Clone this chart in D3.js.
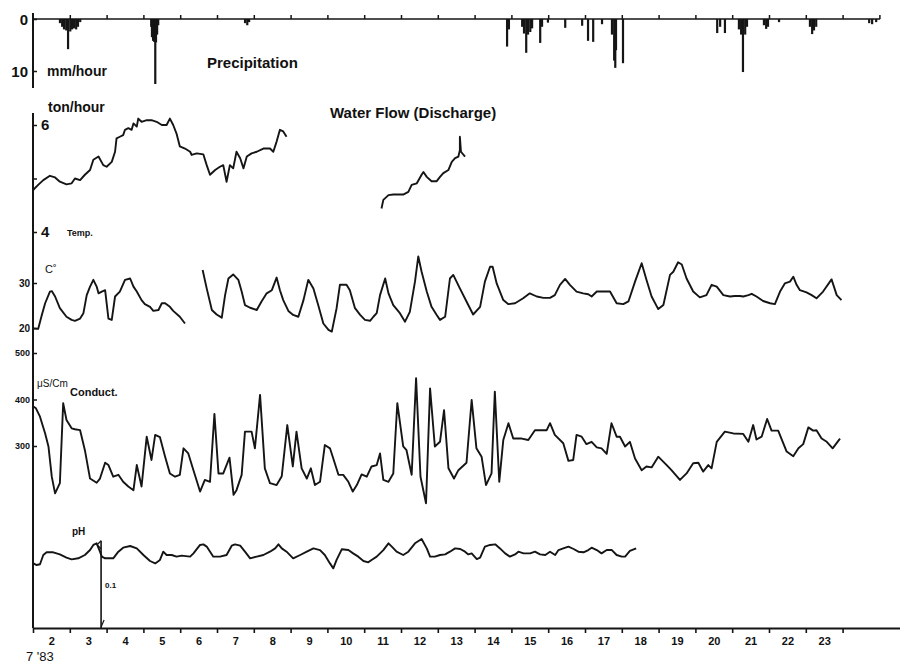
<!DOCTYPE html>
<html>
<head>
<meta charset="utf-8">
<script src="https://cdn.jsdelivr.net/npm/d3@7"></script>
<style>
  body { margin: 0; background: #fff; }
  svg { display: block; background: #fff; }
  text { font-family: "Liberation Sans", Arial, sans-serif; fill: #111; }
  .narrow { font-family: "Liberation Sans Narrow", "Liberation Sans", Arial, sans-serif; }
</style>
</head>
<body>
<div id="chart"></div>
<script>
// July 1983, days of month (fractional day = time within the day)
const dayLabels = ["2","3","4","5","6","7","8","9","10","11","12","13","14","15","16","17","18","19","20","21","22","23"];

// precipitation, mm/hour
const precipDay = [2.73,2.79,2.84,2.90,2.95,3.01,3.06,3.11,3.17,3.22,3.28,
  5.21,5.23,5.26,5.29,5.32,5.34,5.37,5.40, 7.76,7.82,7.87, 14.88,14.93,
  15.29,15.34,15.40,15.45,15.51,15.56, 15.78,15.83, 15.99, 16.46, 16.92, 17.08, 17.22, 17.46,
  17.73,17.79,17.82,17.84, 18.03, 20.59,20.67,20.80, 21.18,21.24,21.29,21.35,21.40,
  21.86,21.92,21.97,22.27, 23.11,23.17,23.22,23.28, 24.72,24.80,24.91];
const precipMm = [0.8,1.5,2.0,2.2,5.8,2.4,2.0,1.8,2.0,1.5,0.6,
  1.5,3.5,4.2,4.4,12.5,4.5,3.0,1.2, 0.8,1.2,0.6, 5.3,2.0,
  1.5,2.8,6.5,3.0,2.5,1.8, 4.6,1.5, 0.7, 1.7, 1.3, 4.2, 4.4, 1.0,
  3.0,8.0,9.4,6.0, 8.5, 2.7,1.5,2.7, 2.0,3.0,10.2,3.0,1.5,
  1.2,1.9,1.5,0.6, 1.5,2.9,2.2,1.5, 0.8,1.0,0.6];

// water flow (discharge), ton/hour -- null = no record
const discharge = [[2.01,4.79],[2.14,4.88],[2.28,4.97],[2.46,5.05],[2.60,5.02],[2.73,4.94],[2.91,4.89],
  [3.05,4.91],[3.14,5.00],[3.28,4.97],[3.41,5.07],[3.55,5.16],[3.64,5.35],[3.78,5.41],[3.91,5.25],
  [4.00,5.22],[4.14,5.31],[4.23,5.50],[4.27,5.75],[4.36,5.78],[4.45,5.81],[4.50,5.91],[4.59,5.94],
  [4.68,5.91],[4.73,6.03],[4.82,5.97],[4.86,6.12],[4.95,6.06],[5.09,6.09],[5.22,6.09],[5.36,6.06],
  [5.50,6.00],[5.63,6.00],[5.72,6.12],[5.81,6.00],[5.90,5.84],[5.99,5.60],[6.13,5.56],[6.27,5.50],
  [6.31,5.44],[6.45,5.47],[6.63,5.45],[6.72,5.25],[6.81,5.07],[6.95,5.16],[7.08,5.22],[7.17,5.25],
  [7.26,4.94],[7.35,5.25],[7.44,5.19],[7.53,5.50],[7.63,5.38],[7.72,5.19],[7.81,5.41],[7.94,5.47],
  [8.08,5.50],[8.26,5.56],[8.44,5.56],[8.53,5.50],[8.62,5.69],[8.71,5.91],[8.80,5.88],[8.89,5.78],
  null,
  [11.47,4.44],[11.52,4.60],[11.66,4.69],[11.79,4.70],[12.06,4.70],[12.20,4.75],[12.29,4.88],
  [12.43,4.91],[12.56,5.07],[12.61,5.12],[12.70,5.03],[12.83,4.95],[12.97,4.95],[13.06,5.03],
  [13.15,5.10],[13.29,5.16],[13.38,5.31],[13.47,5.38],[13.56,5.41],[13.60,5.53],[13.60,5.78],
  [13.63,5.50],[13.74,5.41]];

// temperature, C
const temperature = [[2.01,19.9],[2.14,19.8],[2.24,22.9],[2.33,25.5],[2.46,28.1],[2.51,28.2],[2.60,27.0],
  [2.73,24.4],[2.91,22.5],[3.05,21.8],[3.14,21.6],[3.28,22.1],[3.37,23.3],[3.46,27.3],[3.55,29.2],
  [3.64,30.7],[3.73,29.2],[3.78,27.7],[3.87,28.1],[3.96,28.4],[4.05,22.1],[4.14,21.8],[4.23,27.0],
  [4.36,28.1],[4.50,30.7],[4.64,31.0],[4.73,29.2],[4.82,28.1],[4.95,26.2],[5.04,25.3],[5.18,24.7],
  [5.27,23.8],[5.41,24.0],[5.50,25.5],[5.59,25.5],[5.72,24.7],[5.81,23.8],[5.99,22.5],[6.13,21.0],
  null,
  [6.61,32.9],[6.72,28.8],[6.86,24.0],[6.99,23.0],[7.13,22.3],[7.22,27.3],[7.31,31.0],[7.44,31.9],
  [7.58,30.7],[7.67,28.1],[7.76,25.1],[7.90,24.5],[8.08,24.0],[8.21,25.9],[8.35,27.7],[8.49,28.4],
  [8.62,31.2],[8.71,28.4],[8.80,26.2],[8.94,23.8],[9.07,22.9],[9.21,22.5],[9.35,26.2],[9.48,30.7],
  [9.62,28.8],[9.75,25.1],[9.89,21.0],[10.03,19.6],[10.12,19.2],[10.25,24.4],[10.34,29.6],[10.52,29.6],
  [10.61,28.4],[10.75,24.4],[10.89,22.9],[11.02,21.8],[11.16,21.6],[11.25,22.5],[11.34,23.3],[11.43,27.3],
  [11.57,31.0],[11.66,27.7],[11.79,25.1],[11.97,23.3],[12.11,21.4],[12.24,23.6],[12.38,30.3],[12.47,35.9],
  [12.56,32.5],[12.70,28.1],[12.83,24.7],[12.97,22.9],[13.06,21.8],[13.20,22.5],[13.33,31.0],[13.42,31.8],
  [13.60,28.8],[13.78,25.9],[13.96,23.0],[14.15,24.7],[14.28,30.3],[14.42,33.6],[14.49,33.6],[14.60,29.9],
  [14.78,26.2],[14.92,25.3],[15.10,25.5],[15.32,26.6],[15.50,27.7],[15.69,27.0],[15.87,26.7],[16.05,26.7],
  [16.18,27.3],[16.32,29.6],[16.46,30.9],[16.59,29.6],[16.77,28.1],[16.95,27.7],[17.09,27.5],[17.18,27.0],
  [17.32,28.1],[17.50,28.1],[17.68,28.1],[17.86,25.5],[18.04,25.3],[18.18,25.9],[18.36,30.3],[18.54,34.4],
  [18.67,30.7],[18.81,27.0],[18.99,24.2],[19.13,25.1],[19.31,31.8],[19.40,32.5],[19.53,34.6],[19.63,34.1],
  [19.76,31.0],[19.94,28.1],[20.12,26.8],[20.30,27.3],[20.44,29.6],[20.58,29.2],[20.76,27.3],[20.94,27.0],
  [21.07,27.1],[21.21,27.1],[21.30,27.0],[21.44,27.3],[21.53,27.6],[21.66,27.0],[21.84,26.0],[22.03,25.5],
  [22.16,25.3],[22.30,28.1],[22.43,29.9],[22.57,30.3],[22.66,31.4],[22.75,29.6],[22.84,28.4],[23.02,27.9],
  [23.16,27.3],[23.29,26.6],[23.47,28.1],[23.70,30.8],[23.84,27.3],[23.97,26.2]];

// conductivity, uS/cm
const conductivity = [[2.01,385],[2.08,381],[2.19,363],[2.33,327],[2.42,299],[2.51,234],[2.60,198],
  [2.73,220],[2.82,392],[2.91,356],[3.05,338],[3.14,336],[3.28,334],[3.41,291],[3.55,230],[3.73,221],
  [3.82,230],[3.96,264],[4.05,259],[4.18,234],[4.32,238],[4.45,223],[4.59,213],[4.73,205],[4.82,259],
  [4.95,213],[5.09,320],[5.22,270],[5.32,324],[5.45,319],[5.59,277],[5.72,241],[5.86,234],[5.99,238],
  [6.09,295],[6.22,284],[6.36,248],[6.54,202],[6.67,227],[6.81,223],[6.93,369],[7.04,241],[7.17,241],
  [7.34,275],[7.45,195],[7.53,205],[7.67,238],[7.76,331],[7.94,331],[8.03,295],[8.17,410],[8.30,252],
  [8.44,220],[8.62,216],[8.76,235],[8.91,345],[9.06,256],[9.16,331],[9.30,252],[9.44,230],[9.55,252],
  [9.66,216],[9.80,223],[9.93,302],[10.07,295],[10.16,273],[10.30,238],[10.43,238],[10.57,223],
  [10.69,202],[10.80,216],[10.93,239],[11.07,234],[11.20,256],[11.34,259],[11.43,284],[11.52,227],
  [11.66,223],[11.79,241],[11.90,392],[12.06,299],[12.15,291],[12.29,238],[12.41,446],[12.53,234],
  [12.68,177],[12.79,424],[12.92,299],[13.06,309],[13.17,377],[13.29,252],[13.44,230],[13.56,248],
  [13.78,264],[13.92,399],[14.05,295],[14.19,277],[14.31,216],[14.46,241],[14.55,417],[14.67,223],
  [14.78,313],[14.92,349],[15.05,316],[15.28,316],[15.46,313],[15.64,334],[15.96,334],[16.05,349],
  [16.18,324],[16.41,306],[16.55,268],[16.68,270],[16.77,324],[16.91,320],[17.04,304],[17.18,309],
  [17.32,297],[17.45,295],[17.59,283],[17.72,349],[17.86,320],[17.95,320],[18.09,299],[18.22,309],
  [18.36,273],[18.54,248],[18.67,256],[18.81,254],[18.99,277],[19.22,259],[19.35,248],[19.58,227],
  [19.76,241],[19.94,263],[20.08,264],[20.21,245],[20.35,259],[20.44,252],[20.58,309],[20.80,331],
  [21.03,327],[21.30,326],[21.44,309],[21.57,345],[21.66,314],[21.80,320],[21.95,358],[22.07,333],
  [22.25,333],[22.48,288],[22.66,278],[22.80,295],[22.93,304],[23.07,340],[23.20,333],[23.29,334],
  [23.43,316],[23.57,309],[23.73,295],[23.93,316]];

// pH
const ph = [[2.01,6.944],[2.10,6.933],[2.19,6.938],[2.28,7.000],[2.37,7.018],[2.55,7.018],[2.73,7.004],
  [2.91,6.982],[3.05,6.971],[3.23,6.978],[3.41,7.000],[3.55,7.033],[3.64,7.067],[3.73,7.078],[3.82,7.022],
  [3.87,6.989],[3.96,6.978],[4.18,6.978],[4.32,7.022],[4.45,7.049],[4.64,7.060],[4.82,7.044],[5.00,7.000],
  [5.18,6.960],[5.32,6.944],[5.45,6.967],[5.54,7.022],[5.63,7.000],[5.77,7.000],[5.90,6.989],[6.04,6.996],
  [6.27,6.989],[6.36,7.011],[6.54,7.067],[6.63,7.071],[6.72,7.056],[6.90,6.989],[7.08,6.989],[7.26,7.000],
  [7.40,7.062],[7.49,7.071],[7.63,7.062],[7.76,7.022],[7.90,6.978],[8.08,6.989],[8.26,7.000],[8.44,7.022],
  [8.58,7.044],[8.67,7.071],[8.76,7.044],[8.89,7.022],[9.07,6.978],[9.26,7.000],[9.44,7.022],[9.62,7.044],
  [9.80,7.033],[9.93,7.000],[10.07,6.944],[10.16,6.911],[10.25,6.967],[10.39,7.038],[10.57,7.033],
  [10.70,7.011],[10.84,6.989],[10.98,6.960],[11.11,6.951],[11.20,6.967],[11.34,6.989],[11.52,7.033],
  [11.66,7.078],[11.75,7.056],[11.88,7.022],[12.06,7.000],[12.20,7.022],[12.38,7.078],[12.56,7.107],
  [12.70,7.044],[12.79,6.989],[12.92,6.989],[13.06,7.000],[13.20,7.004],[13.33,7.022],[13.47,7.044],
  [13.61,7.040],[13.74,7.022],[13.83,7.004],[13.92,7.011],[14.06,6.973],[14.15,6.982],[14.28,7.056],
  [14.42,7.067],[14.56,7.071],[14.69,7.044],[14.83,7.011],[14.96,6.989],[15.10,7.004],[15.19,7.022],
  [15.33,7.011],[15.51,7.011],[15.64,7.022],[15.78,7.004],[15.92,7.000],[16.05,7.022],[16.19,7.000],
  [16.28,7.033],[16.41,7.044],[16.55,7.056],[16.69,7.040],[16.82,7.022],[16.96,7.018],[17.09,7.033],
  [17.18,7.049],[17.32,7.033],[17.45,7.011],[17.59,7.033],[17.73,7.033],[17.86,7.000],[18.00,6.989],
  [18.09,6.989],[18.22,7.027],[18.39,7.044]];

const svg = d3.select("#chart")
  .append("svg")
    .attr("width", 900)
    .attr("height", 663);

// scales: one shared time axis, one vertical scale per strip
const x = d3.scaleLinear().domain([2, 25.56]).range([33, 900]);
const yPrec = d3.scaleLinear().domain([0, 10]).range([19, 71]);
const yFlow = d3.scaleLinear().domain([4, 6]).range([232, 125]);
const yTemp = d3.scaleLinear().domain([20, 30]).range([328, 283]);
const yCond = d3.scaleLinear().domain([300, 500]).range([446, 353]);
const yPh = d3.scaleLinear().domain([6.9, 7.1]).range([570, 540]);
const yBase = 628;
const ink = "#151515";

const styleAxis = (g, size, anchorBold) => {
  g.select(".domain").remove();
  g.selectAll("line").attr("stroke", ink).attr("stroke-width", 1.5);
  g.selectAll("text")
    .attr("font-size", size)
    .attr("font-weight", anchorBold ? "bold" : "normal")
    .attr("font-family", "'Liberation Sans', Arial, sans-serif")
    .attr("fill", ink);
};

// ---------- precipitation ----------
svg.append("line")
  .attr("x1", x(2)).attr("x2", x(2))
  .attr("y1", 13).attr("y2", 88)
  .attr("stroke", ink).attr("stroke-width", 2);
svg.append("line")
  .attr("x1", x(2)).attr("x2", x(25.02))
  .attr("y1", yPrec(0)).attr("y2", yPrec(0))
  .attr("stroke", ink).attr("stroke-width", 1.6);
svg.append("g")
  .attr("transform", `translate(0,${yPrec(0)})`)
  .call(d3.axisTop(x).tickValues(d3.range(3, 26)).tickSize(4).tickSizeOuter(0).tickFormat(""))
  .call(g => styleAxis(g, 10, true));
svg.append("g")
  .attr("transform", `translate(${x(2)},0)`)
  .call(d3.axisLeft(yPrec).tickValues([0, 10]).tickSize(-4).tickPadding(5).tickFormat(d3.format("d")))
  .call(g => styleAxis(g, 15, true))
  .call(g => g.selectAll("text").attr("dy", "0.35em"));

svg.append("g")
  .selectAll("rect")
  .data(precipDay)
  .enter()
  .append("rect")
    .attr("x", d => x(d) - 1)
    .attr("y", yPrec(0))
    .attr("width", 2.2)
    .attr("height", (d, i) => yPrec(precipMm[i]) - yPrec(0))
    .attr("fill", ink);

svg.append("text").attr("x", 47).attr("y", 76).attr("font-size", 14).attr("font-weight", "bold").text("mm/hour");
svg.append("text").attr("x", 207).attr("y", 68).attr("font-size", 15).attr("font-weight", "bold").text("Precipitation");

// ---------- long left axis and bottom time axis ----------
svg.append("line")
  .attr("x1", x(2)).attr("x2", x(2))
  .attr("y1", 113).attr("y2", yBase)
  .attr("stroke", ink).attr("stroke-width", 2);

svg.append("g")
  .attr("transform", `translate(0,${yBase})`)
  .call(d3.axisBottom(x).tickValues(d3.range(2, 25)).tickSize(5).tickSizeOuter(0).tickFormat(""))
  .call(g => g.select(".domain").attr("stroke", ink).attr("stroke-width", 2))
  .call(g => g.selectAll("line").attr("stroke", ink).attr("stroke-width", 1.6));
svg.append("g")
  .attr("transform", `translate(0,${yBase})`)
  .call(d3.axisBottom(x).tickValues(dayLabels.map(d => +d + 0.5)).tickSize(0).tickPadding(9)
          .tickFormat((d, i) => dayLabels[i]))
  .call(g => styleAxis(g, 11, true))
  .call(g => g.selectAll("text").attr("class", "narrow").attr("font-family", null));
svg.append("text").attr("x", 26).attr("y", 661).attr("font-size", 13).text("7 '83");

// ---------- water flow ----------
svg.append("g")
  .attr("transform", `translate(${x(2)},0)`)
  .call(d3.axisRight(yFlow).tickValues([4, 5, 6]).tickSize(4).tickPadding(4).tickFormat(d => d === 5 ? "" : d))
  .call(g => styleAxis(g, 15, true));
svg.append("text").attr("x", 48).attr("y", 112).attr("font-size", 14).attr("font-weight", "bold").text("ton/hour");
svg.append("text").attr("x", 330).attr("y", 118).attr("font-size", 15).attr("font-weight", "bold").text("Water Flow (Discharge)");

const drawSeries = (data, yScale) => {
  const line = d3.line()
    .defined(d => d)
    .x(d => x(d[0]))
    .y(d => yScale(d[1]));
  svg.append("path")
    .datum(data)
    .attr("d", line)
    .attr("fill", "none")
    .attr("stroke", ink)
    .attr("stroke-width", 1.9)
    .attr("stroke-linejoin", "round");
};
drawSeries(discharge, yFlow);

// ---------- temperature ----------
svg.append("g")
  .attr("transform", `translate(${x(2)},0)`)
  .call(d3.axisLeft(yTemp).tickValues([20, 30]).tickSize(-4).tickPadding(3))
  .call(g => styleAxis(g, 10, true));
svg.append("text").attr("x", 67).attr("y", 236).attr("font-size", 9).attr("font-weight", "bold").text("Temp.");
svg.append("text").attr("x", 45).attr("y", 273).attr("font-size", 11).text("C˚");
drawSeries(temperature, yTemp);

// ---------- conductivity ----------
svg.append("g")
  .attr("transform", `translate(${x(2)},0)`)
  .call(d3.axisLeft(yCond).tickValues([300, 400, 500]).tickSize(-4).tickPadding(3))
  .call(g => styleAxis(g, 9, true));
svg.append("text").attr("x", 37).attr("y", 387).attr("font-size", 10).text("μS/Cm");
svg.append("text").attr("x", 70).attr("y", 396).attr("font-size", 11).attr("font-weight", "bold")
  .attr("class", "narrow").text("Conduct.");
drawSeries(conductivity, yCond);

// ---------- pH ----------
svg.append("text").attr("x", 72).attr("y", 535).attr("font-size", 10).attr("font-weight", "bold").text("pH");
drawSeries(ph, yPh);

// 0.1 pH scale mark
svg.append("line")
  .attr("x1", x(3.85)).attr("x2", x(3.85))
  .attr("y1", yPh(7.095)).attr("y2", yBase)
  .attr("stroke", ink).attr("stroke-width", 1.6);
svg.append("path")
  .attr("d", `M${x(3.85)},${yPh(7.095)} l-4,4 l4,4`)
  .attr("fill", "none").attr("stroke", ink).attr("stroke-width", 1.2);
svg.append("path")
  .attr("d", `M${x(3.85)},${yBase - 1} l3,-7`)
  .attr("fill", "none").attr("stroke", ink).attr("stroke-width", 1.2);
svg.append("text").attr("x", x(3.85) + 4).attr("y", 588).attr("font-size", 8).attr("font-weight", "bold").text("0.1");
</script>
</body>
</html>
